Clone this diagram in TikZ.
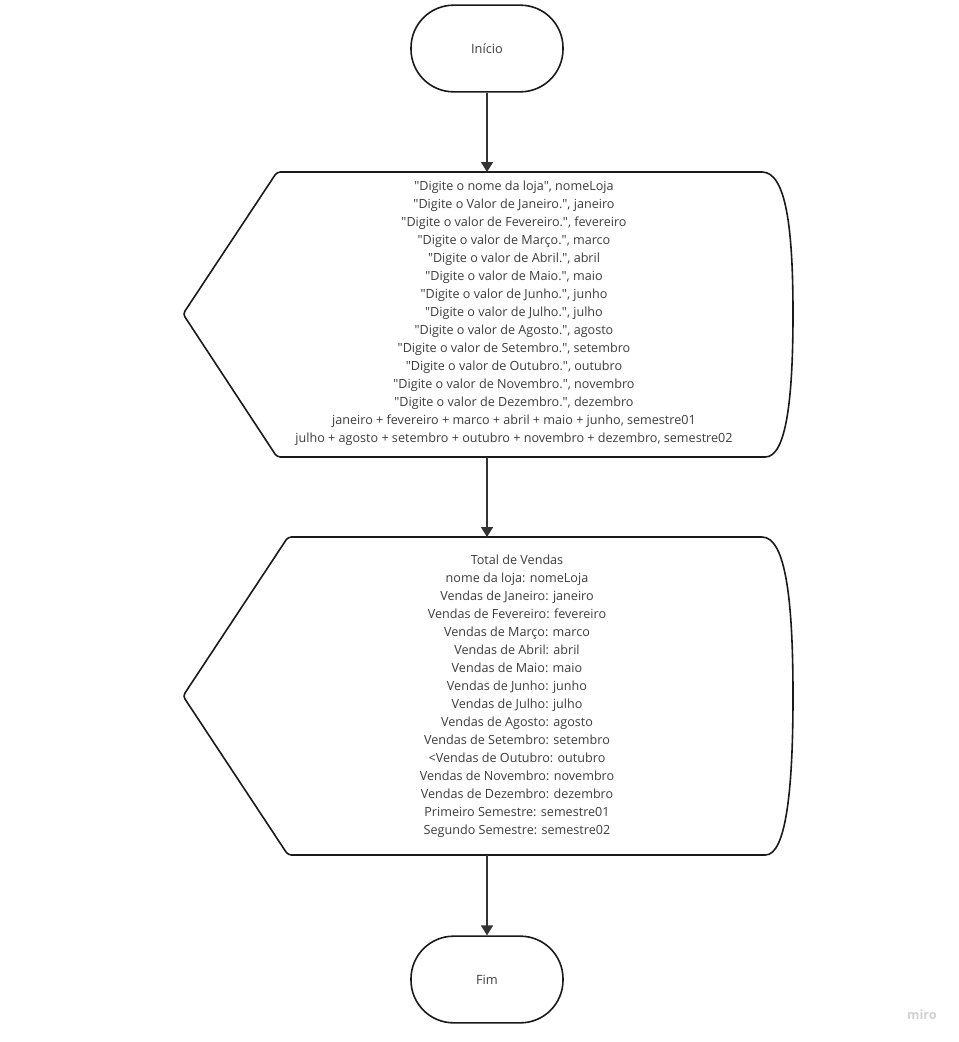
\documentclass[tikz,border=0pt]{standalone}
\usepackage{fontspec}
\setmainfont{Open Sans}[Ligatures=TeXOff]
\usetikzlibrary{arrows.meta, positioning}
\definecolor{inkline}{HTML}{1A1A1A}
\definecolor{arrowgray}{HTML}{333333}
\definecolor{txtgray}{HTML}{3C3C3C}
\definecolor{markgray}{HTML}{D2D2D2}

\begin{document}
\begin{tikzpicture}[x=0.75pt, y=-0.75pt]
        \tikzstyle{every node}+=[inner sep=0pt, text=txtgray]
        \tikzstyle{terminal}=[draw=inkline, line width=1.2pt, rounded corners=32pt, minimum width=114pt, minimum height=65pt, font=\fontsize{9.6}{11}\selectfont]
        \tikzstyle{display}=[draw=inkline, line width=1.2pt, rounded corners=2.5pt]
        \tikzstyle{listing}=[align=center, font=\fontsize{9.45}{13.5}\selectfont]
        \tikzstyle{flow}=[draw=arrowgray, line width=1.2pt, -{Triangle[width=9pt,length=7.5pt]}]
        \useasboundingbox (0,0) rectangle (959,1042);
        % terminals
        \node[terminal] (inicio) at (487,48.5) {Início};
        \node[terminal] (fim) at (487,979.5) {Fim};
        % display: leitura
        \draw [display] (277,172) -- (183,314) -- (277,457) -- (762,457)
          [sharp corners] .. controls (786,457) and (793,400) .. (793,314)
          .. controls (793,228) and (786,172) .. (762,172) [rounded corners=2.5pt] -- cycle;
        \coordinate (leituraTop) at (487,172);
        \coordinate (leituraBot) at (487,457);
        \node[listing] (leitura) at (514,313.5) {"Digite o nome da loja", nomeLoja\\
          "Digite o Valor de Janeiro.", janeiro\\
          "Digite o valor de Fevereiro.", fevereiro\\
          "Digite o valor de Março.", marco\\
          "Digite o valor de Abril.", abril\\
          "Digite o valor de Maio.", maio\\
          "Digite o valor de Junho.", junho\\
          "Digite o valor de Julho.", julho\\
          "Digite o valor de Agosto.", agosto\\
          "Digite o valor de Setembro.", setembro\\
          "Digite o valor de Outubro.", outubro\\
          "Digite o valor de Novembro.", novembro\\
          "Digite o valor de Dezembro.", dezembro\\
          janeiro + fevereiro + marco + abril + maio + junho, semestre01\\
          julho + agosto + setembro + outubro + novembro + dezembro, semestre02};
        % display: saida
        \draw [display] (288,537) -- (183,696) -- (288,855) -- (762,855)
          [sharp corners] .. controls (786,855) and (793,790) .. (793,696)
          .. controls (793,602) and (786,537) .. (762,537) [rounded corners=2.5pt] -- cycle;
        \coordinate (saidaTop) at (487,537);
        \coordinate (saidaBot) at (487,855);
        \node[listing] (saida) at (517,696) {Total de Vendas\\
          nome da loja: nomeLoja\\
          Vendas de Janeiro: janeiro\\
          Vendas de Fevereiro: fevereiro\\
          Vendas de Março: marco\\
          Vendas de Abril: abril\\
          Vendas de Maio: maio\\
          Vendas de Junho: junho\\
          Vendas de Julho: julho\\
          Vendas de Agosto: agosto\\
          Vendas de Setembro: setembro\\
          <Vendas de Outubro: outubro\\
          Vendas de Novembro: novembro\\
          Vendas de Dezembro: dezembro\\
          Primeiro Semestre: semestre01\\
          Segundo Semestre: semestre02};
        % connectors
        \draw [flow] (inicio.south) -- (leituraTop);
        \draw [flow] (leituraBot) -- (saidaTop);
        \draw [flow] (saidaBot) -- (fim.north);
        % watermark
        \node[text=markgray, font=\bfseries\fontsize{9.5}{10}\selectfont] (marca) at (922,1015) {miro};
\end{tikzpicture}
\end{document}
